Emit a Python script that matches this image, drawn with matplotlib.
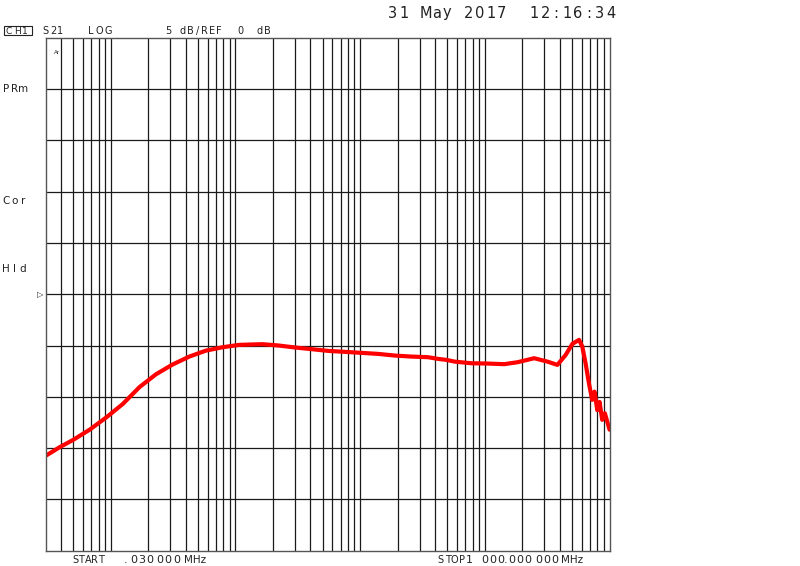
"""
Network analyzer S21 screen capture, redrawn with matplotlib.
"""

import numpy as np
import matplotlib
matplotlib.use("Agg")
import matplotlib.pyplot as plt
from matplotlib.patches import Rectangle

# Trace (frequency in MHz, S21 in dB)
freq_mhz = [0.03, 0.0391, 0.050, 0.0679, 0.0924, 0.125, 0.170, 0.231, 0.314,
            0.427, 0.580, 0.788, 1.07, 1.64, 2.22, 3.03, 4.11, 5.58, 7.57,
            10.3, 14.0, 19.0, 25.8, 35.0, 42.0, 49.0, 57.2, 77.6, 105, 143,
            183, 249, 318, 382, 445, 504, 570, 605, 643, 684, 726, 759, 798,
            832, 874, 918, 1000]
s21_db = [-15.76, -14.9, -14.2, -13.2, -12.0, -10.7, -9.06, -7.8, -6.85,
          -6.08, -5.5, -5.17, -4.94, -4.87, -5.0, -5.2, -5.36, -5.53, -5.62,
          -5.72, -5.82, -5.98, -6.08, -6.14, -6.3, -6.4, -6.57, -6.73, -6.76,
          -6.82, -6.63, -6.24, -6.57, -6.89, -5.92, -4.84, -4.45, -5.1,
          -6.73, -8.68, -10.3, -9.5, -11.3, -10.5, -12.25, -11.6, -13.2]

start_mhz = 0.03
stop_mhz = 1000.0
db_per_div = 5
ref_db = 0

side_labels = ["PRm", "Cor", "Hld"]
side_label_base_px = [91.7, 204, 272.3]

W, H = 800, 566
INK = "#222222"


def log_grid(lo, hi):
    """All 1..9 x 10^n lines between lo and hi."""
    lines = []
    for e in range(-3, 4):
        for m in range(1, 10):
            v = m * 10.0 ** e
            if lo * 1.0001 < v < hi * 0.9999:
                lines.append(v)
    return lines


def mono(fig, x_px, y_px, s, pitch, size):
    """Fixed pitch text, like the analyzer's stroke font (baseline at y_px).
    Each glyph is centred in its cell."""
    for i, ch in enumerate(s):
        if ch == " ":
            continue
        cx = x_px + i * pitch + (pitch - 1.5) / 2
        if ch == ".":
            cx = x_px + i * pitch + 1.5
        fig.text(cx / W, 1 - y_px / H, ch, fontsize=size,
                 ha="center", va="baseline", family="DejaVu Sans", color=INK)


def main():
    fig = plt.figure(figsize=(8, 5.66), dpi=100)
    ax = fig.add_axes([45.5 / W, 15.3 / H, 564 / W, 513 / H])

    ax.set_xscale("log")
    ax.set_xlim(start_mhz, stop_mhz)
    ax.set_ylim(ref_db - 5 * db_per_div, ref_db + 5 * db_per_div)

    # graticule
    for v in log_grid(start_mhz, stop_mhz):
        ax.axvline(v, color="#1a1a1a", lw=0.9)
    for k in range(-4, 5):
        ax.axhline(ref_db + k * db_per_div, color="#1a1a1a", lw=0.9)
    for s in ax.spines.values():
        s.set_color("#555555")
        s.set_linewidth(1.0)
    ax.set_xticks([])
    ax.set_yticks([])
    ax.minorticks_off()
    ax.tick_params(which="both", length=0, labelbottom=False, labelleft=False)

    ax.plot(freq_mhz, s21_db, color="#ff0000", lw=3, solid_joinstyle="round",
            solid_capstyle="round")

    # header
    fig.patches.append(Rectangle((3.5 / W, 1 - 34.5 / H), 28 / W, 8.5 / H,
                                 transform=fig.transFigure, fill=False,
                                 ec=INK, lw=0.8))
    mono(fig, 5.5, 33.5, "CH1", 8.2, 6.5)
    mono(fig, 43, 34, "S21", 7.3, 7)
    mono(fig, 87, 34, "LOG", 9, 7)
    mono(fig, 166, 34, "5", 7, 7)
    mono(fig, 180, 34, "dB/REF", 7.2, 7)
    mono(fig, 238, 34, "0", 7, 7)
    mono(fig, 256, 34, "dB", 8, 7)
    mono(fig, 388, 17.5, "31 May 2017  12:16:34", 10.9, 10.5)

    # side soft-key labels and reference marker
    for lbl, base in zip(side_labels, side_label_base_px):
        mono(fig, 2.5, base, lbl, 8.5, 7.5)
    fig.text(37 / W, 1 - 294.3 / H, "\u25b7", fontsize=6, va="center",
             ha="left", family="DejaVu Sans", color=INK)
    fig.text(54 / W, 1 - 53 / H, "Ar", fontsize=4, va="center",
             ha="left", family="DejaVu Sans", color=INK)

    # start / stop
    mono(fig, 72.5, 562.7, "START", 6.4, 7)
    mono(fig, 124.5, 562.7, ".", 3, 8)
    mono(fig, 130, 562.7, "030", 8.2, 8)
    mono(fig, 156.5, 562.7, "000", 8.2, 8)
    fig.text(184 / W, 1 - 562.7 / H, "MHz", fontsize=7.5, ha="left",
             va="baseline", family="DejaVu Sans", color=INK)

    mono(fig, 437.5, 562.7, "STOP", 7.2, 7)
    mono(fig, 467.5, 562.7, "1", 6, 8)
    mono(fig, 481, 562.7, "000", 8.3, 8)
    mono(fig, 504, 562.7, ".", 3, 8)
    mono(fig, 508, 562.7, "000", 8.2, 8)
    mono(fig, 535, 562.7, "000", 8.2, 8)
    fig.text(561.5 / W, 1 - 562.7 / H, "MHz", fontsize=7.5, ha="left",
             va="baseline", family="DejaVu Sans", color=INK)

    fig.savefig("out.png", dpi=100)


if __name__ == "__main__":
    main()
